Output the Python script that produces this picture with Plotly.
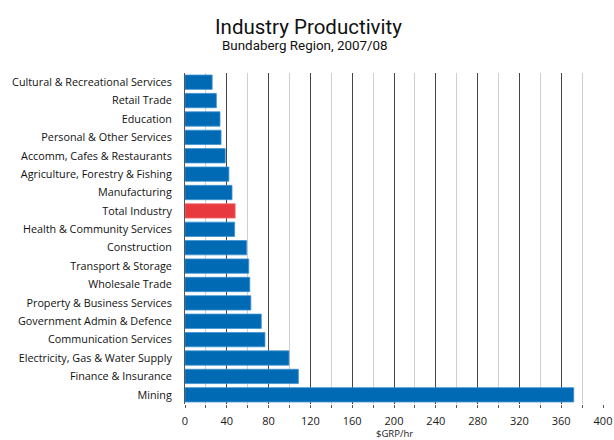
import plotly.graph_objects as go

# Gross regional product per hour worked, by industry
industries = [
    "Cultural & Recreational Services",
    "Retail Trade",
    "Education",
    "Personal & Other Services",
    "Accomm, Cafes & Restaurants",
    "Agriculture, Forestry & Fishing",
    "Manufacturing",
    "Total Industry",
    "Health & Community Services",
    "Construction",
    "Transport & Storage",
    "Wholesale Trade",
    "Property & Business Services",
    "Government Admin & Defence",
    "Communication Services",
    "Electricity, Gas & Water Supply",
    "Finance & Insurance",
    "Mining",
]
grp_per_hour = [26, 30, 33.5, 34.5, 38.5, 42, 45, 48, 47.5, 59, 61, 62, 63, 73,
                76.5, 99.5, 108.5, 372]

x_ticks = [0, 40, 80, 120, 160, 200, 240, 280, 320, 360, 400]

BLUE = "#006AB4"
RED = "#E8393E"
bar_colors = [RED if name == "Total Industry" else BLUE for name in industries]
edge_colors = ["#F07074" if name == "Total Industry" else "#3E93D2" for name in industries]

W, H = 614, 440
M_L, M_R, M_T, M_B = 185, 11, 73, 36
PLOT_W = W - M_L - M_R
PLOT_H = H - M_T - M_B


def px_to_paper_x(px):
    return (px - M_L) / PLOT_W


def px_to_paper_y(py):
    return (H - M_B - py) / PLOT_H


fig = go.Figure(
    go.Bar(
        x=grp_per_hour,
        y=industries,
        orientation="h",
        marker=dict(color=bar_colors, line=dict(color=edge_colors, width=0.8)),
        hoverinfo="x+y",
    )
)

fig.update_layout(
    width=W,
    height=H,
    margin=dict(l=M_L, r=M_R, t=M_T, b=M_B, autoexpand=False),
    paper_bgcolor="white",
    plot_bgcolor="white",
    bargap=0.22,
    showlegend=False,
    font=dict(family="Open Sans, Arial, sans-serif", color="#1a1a1a"),
    annotations=[
        dict(text="Industry Productivity", x=px_to_paper_x(308), y=px_to_paper_y(27),
             xref="paper", yref="paper", xanchor="center", yanchor="middle",
             showarrow=False,
             font=dict(size=20.5, color="#111111", family="Roboto, Arial")),
        dict(text="Bundaberg Region, 2007/08", x=px_to_paper_x(305), y=px_to_paper_y(46),
             xref="paper", yref="paper", xanchor="center", yanchor="middle",
             showarrow=False,
             font=dict(size=13.4, color="#111111", family="Roboto, Arial")),
        dict(text="$GRP/hr", x=px_to_paper_x(394), y=px_to_paper_y(434),
             xref="paper", yref="paper", xanchor="center", yanchor="middle",
             showarrow=False, borderpad=0, font=dict(size=9.5, color="#1a1a1a")),
    ],
)

fig.update_xaxes(
    range=[0, 400],
    tickvals=x_ticks,
    ticktext=[str(v) for v in x_ticks],
    showgrid=True,
    gridcolor="#454545",
    gridwidth=1,
    zeroline=False,
    showline=False,
    ticks="outside",
    ticklen=3,
    tickcolor="#555555",
    ticklabelstandoff=4,
    tickfont=dict(size=11, color="#1a1a1a"),
    minor=dict(dtick=20, tick0=0, showgrid=True, gridcolor="#CFCFCF", gridwidth=1,
               ticks="outside", ticklen=3, tickcolor="#555555"),
    automargin=False,
    fixedrange=True,
)

fig.update_yaxes(
    autorange="reversed",
    showgrid=False,
    showline=True,
    linecolor="#555555",
    linewidth=1,
    ticks="",
    ticklabelstandoff=10,
    tickfont=dict(size=10.8, color="#111111"),
    automargin=False,
    fixedrange=True,
)

fig.write_html("out.html")
